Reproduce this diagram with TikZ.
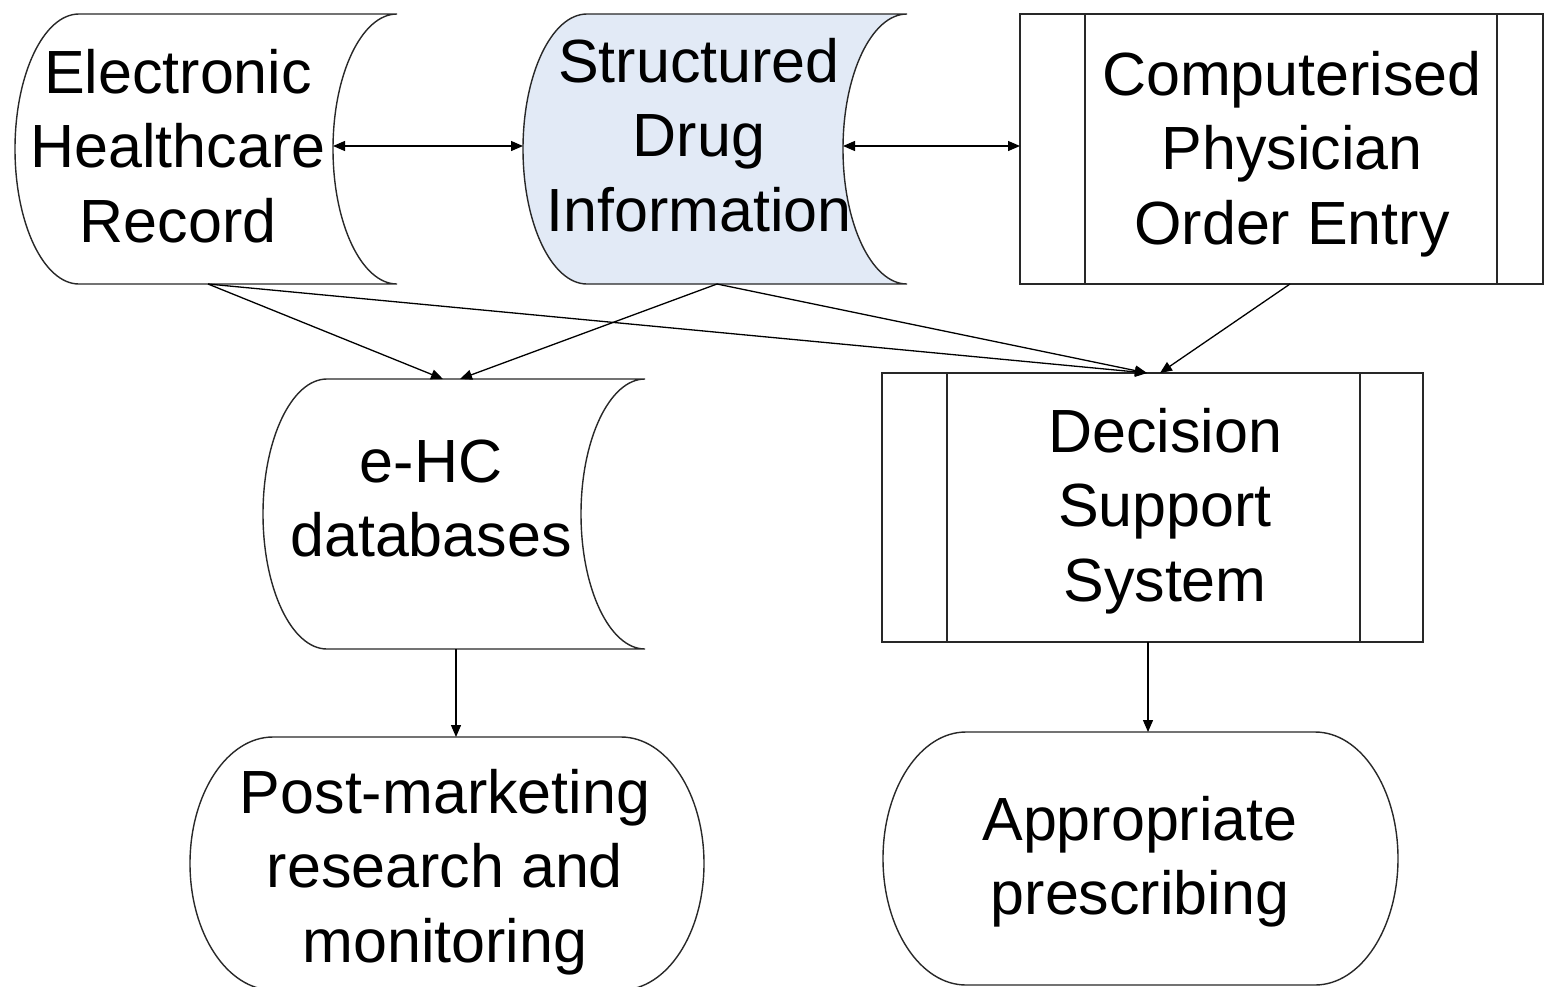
\documentclass[tikz,border=0pt]{standalone}
\usepackage{fontspec}
\setmainfont{Liberation Sans}
\usetikzlibrary{arrows.meta}
\definecolor{drugfill}{RGB}{226,234,246}
\definecolor{outline}{RGB}{40,40,40}
% stacked, centred text lines; the box baseline is that of the first line
\newcommand{\stacklines}[1]{\begin{tabular}[t]{@{}c@{}}#1\end{tabular}}

\begin{document}
\begin{tikzpicture}[x=1pt,y=1pt,
  box/.style={draw=outline, line width=1.4pt},
  txt/.style={anchor=base, inner sep=0pt, font=\fontsize{61}{74.5}\selectfont},
  conn/.style={draw=black, line width=1.3pt, -{Triangle[length=12pt,width=10pt]}},
  dconn/.style={draw=black, line width=1.3pt, {Triangle[length=12pt,width=10pt]}-{Triangle[length=12pt,width=10pt]}}
]
\useasboundingbox (0,0) rectangle (1545,-986);
\fill[white] (0,0) rectangle (1545,-986);

% ---- stored-data shapes ----
\draw[box] (79,-14) -- (397,-14)
  arc[start angle=90,end angle=270,x radius=64,y radius=135] -- (79,-284)
  arc[start angle=270,end angle=90,x radius=64,y radius=135] -- cycle;
\draw[box, fill=drugfill] (587,-14) -- (907,-14)
  arc[start angle=90,end angle=270,x radius=64,y radius=135] -- (587,-284)
  arc[start angle=270,end angle=90,x radius=64,y radius=135] -- cycle;
\draw[box] (327,-379) -- (645,-379)
  arc[start angle=90,end angle=270,x radius=64,y radius=135] -- (327,-649)
  arc[start angle=270,end angle=90,x radius=64,y radius=135] -- cycle;

% ---- predefined-process boxes ----
\draw[box] (1020,-14) rectangle (1543,-284);
\draw[box] (1085,-14) -- (1085,-284);
\draw[box] (1497,-14) -- (1497,-284);
\draw[box] (882,-373) rectangle (1423,-642);
\draw[box] (947,-373) -- (947,-642);
\draw[box] (1360,-373) -- (1360,-642);

% ---- terminators ----
\draw[box] (273,-737) -- (621,-737)
  arc[start angle=90,end angle=-90,x radius=83,y radius=126.5] -- (273,-990)
  arc[start angle=270,end angle=90,x radius=83,y radius=126.5] -- cycle;
\draw[box] (966,-732) -- (1315,-732)
  arc[start angle=90,end angle=-90,x radius=83,y radius=126.5] -- (966,-985)
  arc[start angle=270,end angle=90,x radius=83,y radius=126.5] -- cycle;

% ---- labels ----
\node[txt] (ehr)  at (178,-93)  {\stacklines{Electronic\\Healthcare\\Record}};
\node[txt] (sdi)  at (699,-82)  {\stacklines{Structured\\Drug\\Information}};
\node[txt] (cpoe) at (1292,-95) {\stacklines{Computerised\\Physician\\Order Entry}};
\node[txt] (ehc)  at (431,-482) {\stacklines{e-HC\\databases}};
\node[txt] (dss)  at (1165,-452) {\stacklines{Decision\\Support\\System}};
\node[txt] (pmr)  at (445,-813) {\stacklines{Post-marketing\\research and\\monitoring}};
\node[txt] (app)  at (1140,-840) {\stacklines{Appropriate\\prescribing}};

% ---- connection points on the outlines ----
\coordinate (ehr-e)  at (333,-146);
\coordinate (sdi-w)  at (523,-146);
\coordinate (sdi-e)  at (843,-146);
\coordinate (cpoe-w) at (1020,-146);
\coordinate (ehr-s)  at (208,-284);
\coordinate (sdi-s)  at (717,-284);
\coordinate (cpoe-s) at (1290,-284);
\coordinate (ehc-n1) at (443,-379);
\coordinate (ehc-n2) at (460,-379);
\coordinate (dss-n1) at (1147,-373);
\coordinate (dss-n2) at (1160,-373);
\coordinate (ehc-s)  at (456,-649);
\coordinate (pmr-n)  at (456,-737);
\coordinate (dss-s)  at (1148,-642);
\coordinate (app-n)  at (1148,-732);

% ---- connectors ----
\draw[dconn] (ehr-e) -- (sdi-w);
\draw[dconn] (sdi-e) -- (cpoe-w);
\draw[conn] (ehr-s) -- (ehc-n1);
\draw[conn] (sdi-s) -- (ehc-n2);
\draw[conn] (ehr-s) -- (dss-n1);
\draw[conn] (sdi-s) -- (dss-n1);
\draw[conn] (cpoe-s) -- (dss-n2);
\draw[conn] (ehc-s) -- (pmr-n);
\draw[conn] (dss-s) -- (app-n);
\end{tikzpicture}
\end{document}
